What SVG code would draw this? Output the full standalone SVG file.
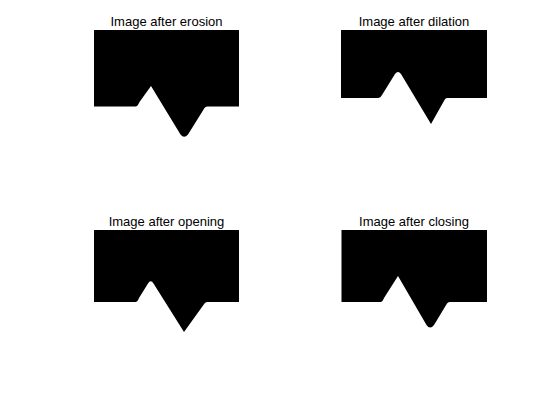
<svg xmlns="http://www.w3.org/2000/svg" width="560" height="420" viewBox="0 0 560 420">
<style>
.t{font-family:"Liberation Sans",Arial,sans-serif;font-size:13px;fill:#000;text-anchor:middle}
.s{fill:#000;stroke:none}
</style>
<rect width="560" height="420" fill="#fff"/>
<g id="erosion">
<text class="t" x="166.5" y="25.5">Image after erosion</text>
<path class="s" d="M94,30 H239 V106.5 H207 Q205.5,106.5 204.5,108 L188,134.5 Q184,139 180.5,134.5 L151,86 L139.5,102 Q137.5,106.5 135.5,106.5 H94 Z"/>
</g>
<g id="dilation">
<text class="t" x="414" y="25.5">Image after dilation</text>
<path class="s" d="M341,30 H487 V98 H447 Q445.5,98 444.5,100 L431,124 L401,74 Q398,70 395,74 L382,95 Q380.5,98 378.5,98 H341 Z"/>
</g>
<g id="opening">
<text class="t" x="166.5" y="225.5">Image after opening</text>
<path class="s" d="M94,230 H239 V302 H207 Q205.5,302 204.5,303.5 L184,332 L153.5,283.5 Q150.7,279 148,283.5 L139,298 Q137.5,302 135.5,302 H94 Z"/>
</g>
<g id="closing">
<text class="t" x="414" y="225.5">Image after closing</text>
<path class="s" d="M341.5,230 H487 V302 H449.5 Q448,302 447,303.5 L434,325 Q430,330 426.5,325 L398,276 L384,298 Q382.5,302 380.5,302 H341.5 Z"/>
</g>
<g id="connectors"/>
</svg>
